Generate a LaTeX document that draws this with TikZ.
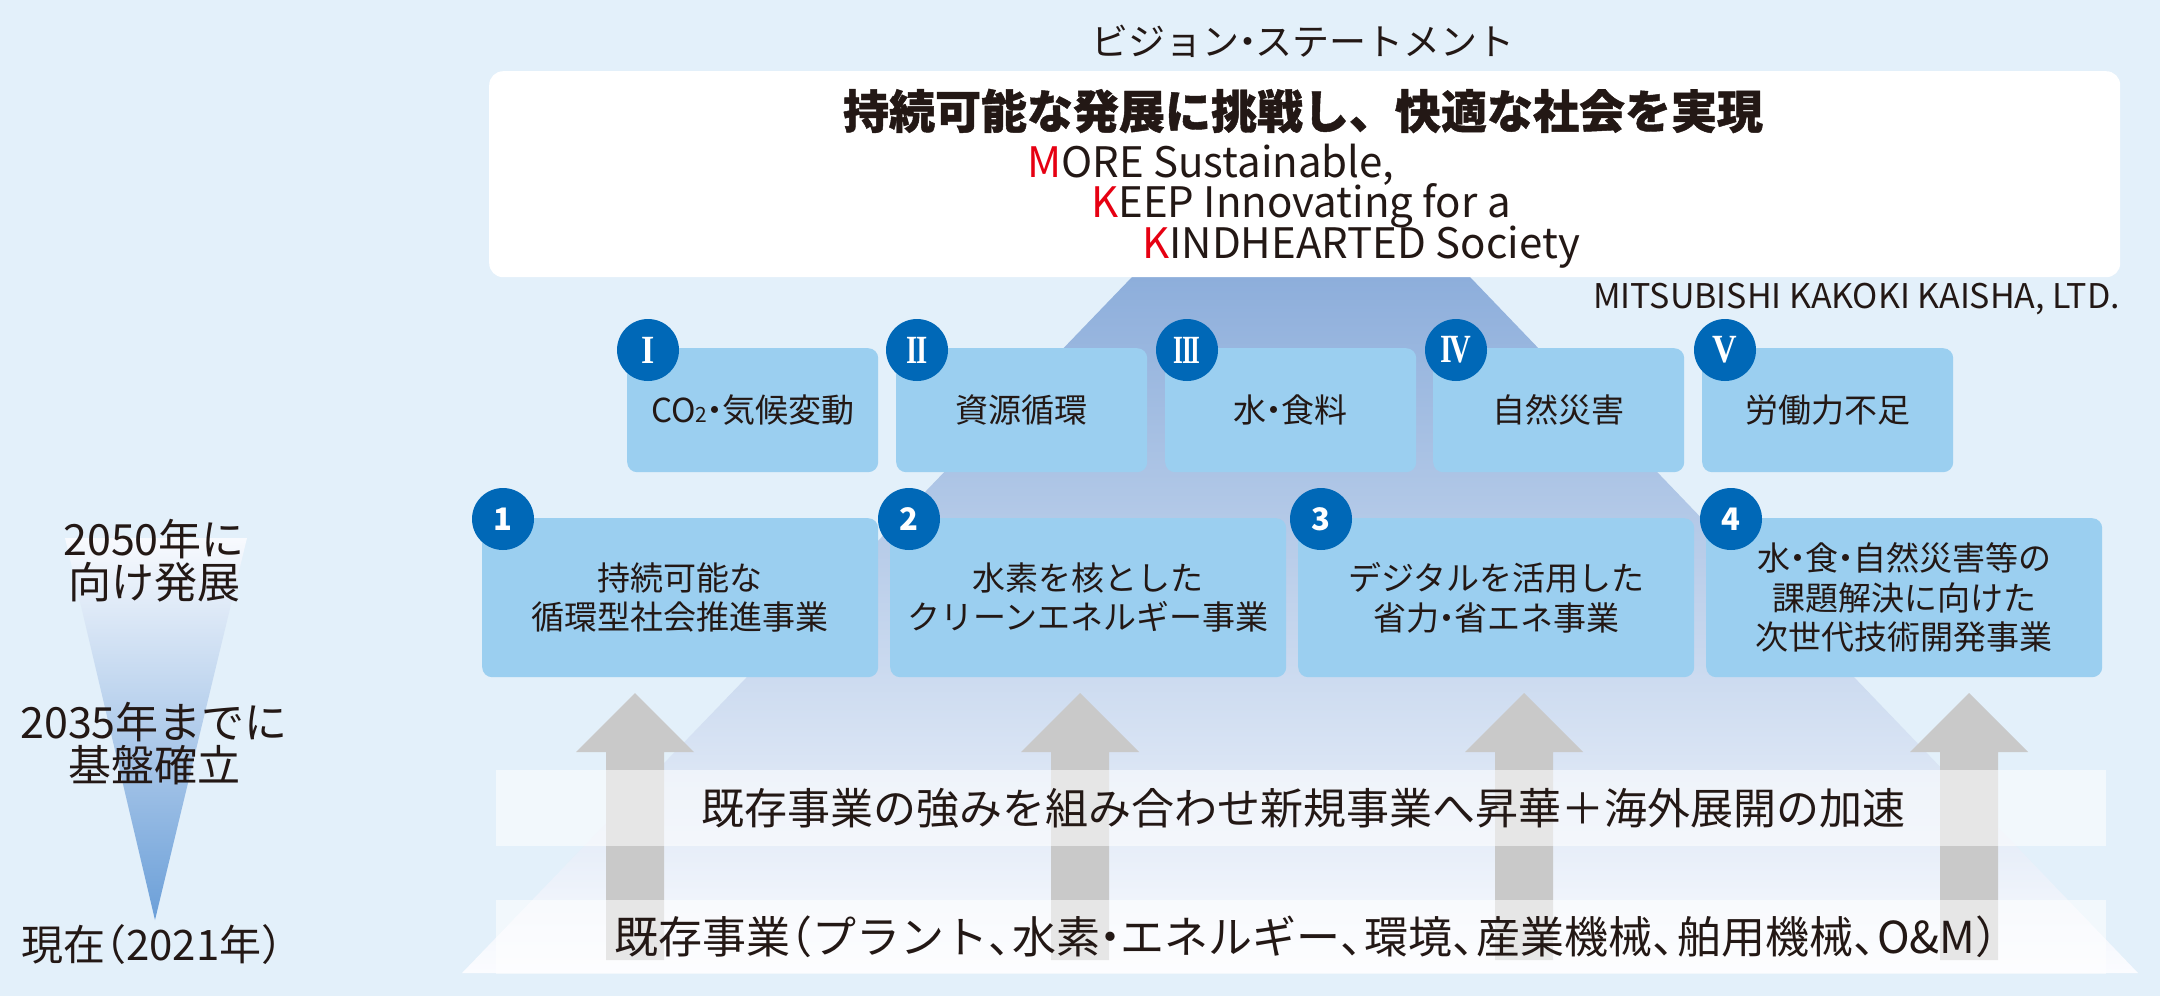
\documentclass[tikz,border=0pt]{standalone}
\usepackage{fontspec}
\usepackage{graphicx}
\setmainfont{Noto Sans CJK JP}
\newfontfamily\romnum{Liberation Serif}
\definecolor{bg}{HTML}{E3F0FA}
\definecolor{boxblue}{HTML}{9BCFF0}
\definecolor{circblue}{HTML}{0068B7}
\definecolor{ink}{HTML}{231815}
\definecolor{mkred}{HTML}{E60012}
\definecolor{pyrtop}{HTML}{8DAEDB}
\definecolor{pyrmid}{HTML}{C4D4ED}
\definecolor{pyrbot}{HTML}{FBFCFF}
\definecolor{arrowgray}{HTML}{C9C9C9}
\definecolor{funneltop}{HTML}{F8FAFE}
\definecolor{funnelbot}{HTML}{6B9FD8}
\newcommand\mkfs[1]{\fontsize{#1}{#1}\selectfont}
\newcommand\nakag{\makebox[0.45em][c]{・}}
\newcommand\tten{\makebox[0.55em][l]{、}}
\newcommand\lpar{\makebox[0.5em][r]{（}}
\newcommand\rpar{\makebox[0.5em][l]{）}}
\newcommand\romI{\scalebox{0.85}[1]{I}}
\newcommand\romII{\scalebox{0.72}[1]{I\kern-0.06em I}}
\newcommand\romIII{\scalebox{0.63}[1]{I\kern-0.06em I\kern-0.06em I}}
\newcommand\romIV{\scalebox{0.75}[1]{I\kern-0.07em V}}
\newcommand\romV{\scalebox{0.85}[1]{V}}
\begin{document}
\begin{tikzpicture}[x=1pt,y=-1pt,
  issuebox/.style={fill=boxblue, rounded corners=10pt, minimum width=251pt, minimum height=124pt,
    anchor=north west, inner sep=0pt, text=ink, font=\mkfs{33}},
  bizbox/.style={fill=boxblue, rounded corners=10pt, minimum width=396pt, minimum height=159pt,
    anchor=north west, inner sep=0pt, text=ink, align=center, font=\fontsize{33}{39.5}\selectfont},
  numcirc/.style={circle, fill=circblue, minimum size=62pt, inner sep=0pt, text=white, font=\bfseries\mkfs{31}},
  romcirc/.style={numcirc, font=\romnum\bfseries\mkfs{40}},
  bandrect/.style={fill=white, fill opacity=0.55},
  bandtext/.style={text=ink, font=\mkfs{43}, inner sep=0pt},
  sidetext/.style={text=ink, align=center, font=\fontsize{43}{43}\selectfont, inner sep=0pt},
  stmt/.style={anchor=base west, text=ink, font=\mkfs{42}, inner sep=0pt}
]
\useasboundingbox (0,0) rectangle (2160,996);
\fill[bg] (0,0) rectangle (2160,996);

% pyramid
\shade[top color=pyrtop, middle color=pyrmid, bottom color=pyrbot]
  (1132,277) -- (1470,277) -- (2138,973) -- (462,973) -- cycle;

% left funnel
\shade[top color=funneltop, bottom color=funnelbot] (65,538) -- (247,538) -- (155,920) -- cycle;

% vision box
\node[fill=white, rounded corners=14pt, minimum width=1631pt, minimum height=206pt,
  anchor=north west, inner sep=0pt] (vbox) at (489,71) {};
\node[text=ink, font=\mkfs{37}] (vhead) at (1303,41) {ビジョン\nakag ステートメント};
\node[text=ink, font=\bfseries\mkfs{46}\addfontfeature{FakeBold=1}] (vtitle) at (1303,111) {持続可能な発展に挑戦し、快適な社会を実現};
\node[stmt] (s1) at (1027,177) {\textcolor{mkred}{M}ORE Sustainable,};
\node[stmt] (s2) at (1091,217) {\textcolor{mkred}{K}EEP Innovating for a};
\node[stmt] (s3) at (1142,258) {\textcolor{mkred}{K}INDHEARTED Society};
\node[anchor=base east, text=ink, font=\mkfs{34}, inner sep=0pt] (mkk) at (2120,308) {MITSUBISHI KAKOKI KAISHA, LTD.};

% issue boxes
\node[issuebox] (i1) at (627,348) {CO{\mkfs{21}2}\nakag 気候変動};
\node[issuebox] (i2) at (896,348) {資源循環};
\node[issuebox] (i3) at (1165,348) {水\nakag 食料};
\node[issuebox] (i4) at (1433,348) {自然災害};
\node[issuebox] (i5) at (1702,348) {労働力不足};
\node[romcirc] (ci1) at (648,350) {\romI};
\node[romcirc] (ci2) at (917,350) {\romII};
\node[romcirc] (ci3) at (1187,350) {\romIII};
\node[romcirc] (ci4) at (1456,350) {\romIV};
\node[romcirc] (ci5) at (1725,350) {\romV};

% business boxes
\node[bizbox] (b1) at (482,518) {持続可能な\\循環型社会推進事業};
\node[bizbox] (b2) at (890,518) {水素を核とした\\クリーンエネルギー事業};
\node[bizbox] (b3) at (1298,518) {デジタルを活用した\\省力\nakag 省エネ事業};
\node[bizbox] (b4) at (1706,518) {水\nakag 食\nakag 自然災害等の\\課題解決に向けた\\次世代技術開発事業};
\node[numcirc] (cb1) at (503,519) {1};
\node[numcirc] (cb2) at (909,519) {2};
\node[numcirc] (cb3) at (1321,519) {3};
\node[numcirc] (cb4) at (1731,519) {4};

% arrows
\foreach \cx in {635,1080,1524,1969}{
  \fill[arrowgray] (\cx,693) -- ({\cx+59},752) -- ({\cx+29},752) -- ({\cx+29},960)
    -- ({\cx-29},960) -- ({\cx-29},752) -- ({\cx-59},752) -- cycle;
}

% bands
\fill[bandrect] (496,770) rectangle (2106,846);
\fill[bandrect] (496,900) rectangle (2106,974);
\node[bandtext] (t1) at (1303,808) {既存事業の強みを組み合わせ新規事業へ昇華＋海外展開の加速};
\node[bandtext, font=\mkfs{44}] (t2) at (1306,937) {既存事業\lpar プラント\tten 水素\nakag エネルギー\tten 環境\tten 産業機械\tten 舶用機械\tten O\&M\rpar};

% side labels
\node[sidetext] (y2050) at (154,561) {2050年に\\向け発展};
\node[sidetext] (y2035) at (154,744) {2035年までに\\基盤確立};
\node[sidetext, font=\mkfs{42}] (y2021) at (152,945) {現在\lpar 2021年\rpar};
\end{tikzpicture}
\end{document}
